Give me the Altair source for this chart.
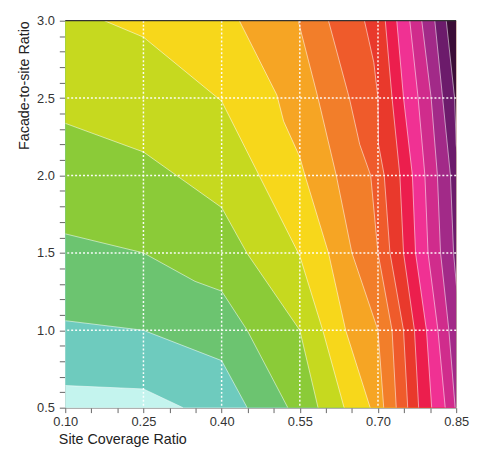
import altair as alt
import pandas as pd

# axis domains, ticks and labelled positions
x_domain = [0.10, 0.85]
y_domain = [0.5, 3.0]
x_ticks = [0.10, 0.15, 0.20, 0.25, 0.30, 0.35, 0.40, 0.45, 0.50, 0.55, 0.60, 0.65, 0.70, 0.75, 0.80, 0.85]
y_ticks = [0.5, 0.6, 0.7, 0.8, 0.9, 1.0, 1.1, 1.2, 1.3, 1.4, 1.5, 1.6, 1.7, 1.8, 1.9, 2.0,
           2.1, 2.2, 2.3, 2.4, 2.5, 2.6, 2.7, 2.8, 2.9, 3.0]
x_grid = [0.25, 0.40, 0.55, 0.70]
y_grid = [1.0, 1.5, 2.0, 2.5]

# contour band colours, low (bottom-left) to high (right)
band_colors = ["#c4f4ee", "#6ecbbe", "#6cc470", "#8bcb38", "#c6d91f", "#f7d71b",
               "#f6a524", "#f27e2a", "#ef5b2b", "#e9392c", "#ec1e4d", "#f03193",
               "#d02c8c", "#a22a88", "#6c1b6b", "#3b0c36"]

# contour boundaries (x = site coverage, y = facade-to-site ratio)
b1_x = [0.326, 0.25, 0.10]
b1_y = [0.5, 0.621, 0.643]
b2_x = [0.449, 0.40, 0.25, 0.10]
b2_y = [0.5, 0.804, 1.0, 1.062]
b3_x = [0.527, 0.449, 0.40, 0.349, 0.25, 0.10]
b3_y = [0.5, 1.0, 1.253, 1.316, 1.5, 1.623]
b4_x = [0.585, 0.55, 0.449, 0.40, 0.25, 0.10]
b4_y = [0.5, 1.0, 1.496, 1.793, 2.152, 2.337]
b5_x = [0.635, 0.594, 0.55, 0.40, 0.25, 0.175]
b5_y = [0.5, 1.0, 1.48, 2.48, 2.894, 3.0]
b6_x = [0.685, 0.638, 0.605, 0.56, 0.55, 0.519, 0.506, 0.434]
b6_y = [0.5, 1.0, 1.5, 2.0, 2.12, 2.35, 2.52, 3.0]
b7_x = [0.711, 0.70, 0.65, 0.62, 0.585, 0.547]
b7_y = [0.5, 1.0, 1.5, 2.0, 2.5, 3.0]
b8_x = [0.735, 0.727, 0.70, 0.686, 0.665, 0.645, 0.605]
b8_y = [0.5, 1.0, 1.5, 2.0, 2.2, 2.5, 3.0]
b9_x = [0.757, 0.749, 0.723, 0.712, 0.701, 0.700, 0.692, 0.674]
b9_y = [0.5, 1.0, 1.5, 2.0, 2.2, 2.5, 2.73, 3.0]
b10_x = [0.778, 0.770, 0.749, 0.742, 0.727, 0.714]
b10_y = [0.5, 1.0, 1.5, 2.0, 2.5, 3.0]
b11_x = [0.803, 0.793, 0.772, 0.766, 0.749, 0.736]
b11_y = [0.5, 1.0, 1.5, 2.0, 2.5, 3.0]
b12_x = [0.829, 0.815, 0.796, 0.790, 0.777, 0.761]
b12_y = [0.5, 1.0, 1.5, 2.0, 2.5, 3.0]
b13_x = [0.848, 0.836, 0.820, 0.814, 0.802, 0.784]
b13_y = [0.5, 1.0, 1.5, 2.0, 2.5, 3.0]
b14_x = [0.875, 0.858, 0.845, 0.839, 0.824, 0.809]
b14_y = [0.5, 1.0, 1.5, 2.0, 2.5, 3.0]
b15_x = [0.91, 0.89, 0.87, 0.856, 0.850, 0.847, 0.831]
b15_y = [0.5, 1.0, 1.5, 2.0, 2.2, 2.5, 3.0]

boundaries = [(b1_x, b1_y), (b2_x, b2_y), (b3_x, b3_y), (b4_x, b4_y), (b5_x, b5_y),
              (b6_x, b6_y), (b7_x, b7_y), (b8_x, b8_y), (b9_x, b9_y), (b10_x, b10_y),
              (b11_x, b11_y), (b12_x, b12_y), (b13_x, b13_y), (b14_x, b14_y), (b15_x, b15_y)]

FONT = "Liberation Sans"

x_axis = alt.Axis(
    title="Site Coverage Ratio", values=x_ticks, grid=False,
    labelExpr="abs((datum.value - 0.1) / 0.15 - round((datum.value - 0.1) / 0.15)) < 0.01 ? format(datum.value, '.2f') : ''",
    labelFlush=False, labelFontSize=13, labelColor="#333", labelPadding=3,
    tickSize=5, tickColor="#666", domainColor="#888",
    titleFontSize=14.5, titleFontWeight="normal", titleColor="#222",
    titleAnchor="start", titleAlign="left", titleX=-7, titlePadding=4,
)
y_axis = alt.Axis(
    title="Facade-to-site Ratio", values=y_ticks, grid=False,
    labelExpr="abs(datum.value * 2 - round(datum.value * 2)) < 0.01 ? format(datum.value, '.1f') : ''",
    labelFlush=False, labelFontSize=13, labelColor="#333", labelPadding=5,
    tickSize=6, tickColor="#666", domainColor="#888",
    titleFontSize=14.5, titleFontWeight="normal", titleColor="#222",
    titleAnchor="end", titlePadding=5,
)
xs = alt.Scale(domain=x_domain, nice=False, zero=False)
ys = alt.Scale(domain=y_domain, nice=False, zero=False)


def X(f):
    return alt.X(f, type="quantitative", scale=xs, axis=x_axis, stack=None)


def Y(f):
    return alt.Y(f, type="quantitative", scale=ys, axis=y_axis, stack=None)


base_df = pd.DataFrame({"x": [x_domain[0]], "xr": [x_domain[1]],
                        "y": [y_domain[0]], "yt": [y_domain[1]]})
layers = [
    alt.Chart(base_df).mark_rect(color=band_colors[0]).encode(
        x=X("x"), x2=alt.X2("xr"), y=Y("y"), y2=alt.Y2("yt"))
]

line_rows = []
for k, (bx, by) in enumerate(boundaries):
    xs_pts = list(bx)
    ys_pts = list(by)
    if ys_pts[-1] < y_domain[1]:
        xs_pts.append(x_domain[0])
        ys_pts.append(y_domain[1])
    df = pd.DataFrame({"x": xs_pts, "y": ys_pts, "xr": x_domain[1]})
    layers.append(
        alt.Chart(df).mark_area(orient="horizontal", color=band_colors[k + 1], clip=True,
                                interpolate="linear").encode(
            y=Y("y"), x=X("x"), x2=alt.X2("xr"))
    )
    for i, (px, py) in enumerate(zip(bx, by)):
        line_rows.append({"b": k, "i": i, "x": px, "y": py})

lines_df = pd.DataFrame(line_rows)
layers.append(
    alt.Chart(lines_df).mark_line(color="white", strokeWidth=0.9, opacity=0.6, clip=True).encode(
        x=X("x"), y=Y("y"), detail="b:N", order="i:Q")
)

layers.append(
    alt.Chart(pd.DataFrame({"x": x_grid})).mark_rule(
        color="white", strokeDash=[2, 2], strokeWidth=1.5, opacity=0.95).encode(x=X("x"))
)
layers.append(
    alt.Chart(pd.DataFrame({"y": y_grid})).mark_rule(
        color="white", strokeDash=[2, 2], strokeWidth=1.5, opacity=0.95).encode(y=Y("y"))
)
layers.append(
    alt.Chart(pd.DataFrame({"y": [y_domain[1]]})).mark_rule(
        color="#333", strokeWidth=1.2).encode(y=Y("y"))
)

chart = alt.layer(*layers).properties(
    width=396, height=392,
    autosize=alt.AutoSizeParams(type="none"),
    padding={"left": 58, "top": 10, "right": 14, "bottom": 40},
).configure_view(strokeWidth=0).configure_axis(labelFont=FONT, titleFont=FONT)

chart.save("out.html", embed_options={"renderer": "svg", "actions": False})
